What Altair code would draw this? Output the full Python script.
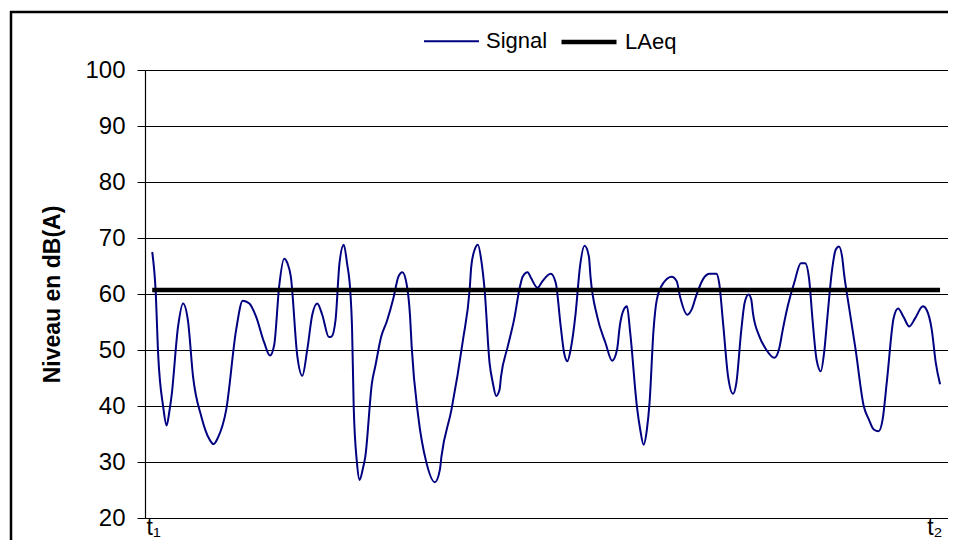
import altair as alt
import pandas as pd

# ---- data ----
times = [0.90, 1.32, 1.65, 2.26, 2.69, 3.01, 3.30, 4.12, 4.74, 5.36, 5.98, 7.02, 8.04, 8.54, 9.07,
         10.11, 11.35, 12.17, 13.00, 13.82, 14.85, 15.56, 16.09, 16.71, 17.33, 17.74, 18.16, 18.97,
         19.59, 20.21, 20.83, 21.45, 22.07, 22.90, 23.23, 23.73, 24.22, 24.75, 25.16, 25.58, 25.78,
         25.99, 26.40, 26.73, 27.10, 27.44, 28.26, 28.68, 29.42, 30.11, 30.94, 31.56, 32.05, 32.59,
         33.01, 33.21, 34.03, 35.06, 36.10, 36.72, 36.92, 38.16, 39.60, 40.43, 40.63, 41.05, 41.46,
         41.87, 42.29, 42.91, 43.32, 43.73, 44.15, 44.34, 45.17, 46.00, 46.62, 47.03, 47.65, 48.06,
         48.89, 49.50, 50.53, 51.15, 51.77, 52.19, 52.60, 53.01, 53.63, 54.17, 54.74, 55.28, 55.48,
         56.31, 57.34, 58.17, 58.79, 59.12, 59.62, 60.02, 60.43, 61.26, 61.67, 62.09, 62.50, 62.83,
         63.33, 63.74, 64.57, 65.59, 66.21, 66.62, 67.54, 68.07, 68.69, 69.52, 70.33, 71.16, 71.50,
         71.99, 72.61, 73.23, 73.64, 74.26, 74.67, 75.16, 75.50, 75.71, 76.52, 77.35, 78.38, 79.00,
         79.42, 80.04, 80.85, 81.68, 82.21, 82.71, 83.13, 83.63, 84.16, 84.57, 84.99, 85.52, 86.01,
         86.42, 86.84, 87.04, 87.66, 88.49, 89.52, 90.14, 90.76, 91.37, 91.86, 92.41, 93.23, 93.78,
         94.47, 95.17, 95.92, 96.87, 97.36, 97.98, 98.48, 99.01]
levels = [67.5, 60.7, 48.9, 39.9, 36.5, 38.8, 41.7, 54.2, 58.3, 55.1, 45.3, 38.1, 34.0, 33.2, 34.3,
          39.3, 53.6, 58.8, 58.3, 56.0, 51.3, 49.0, 50.9, 61.4, 66.3, 65.5, 63.1, 48.9,
          45.4, 50.1, 56.3, 58.3, 56.3, 52.3, 52.4, 55.4, 65.5, 68.8, 65.5, 60.2, 54.2,
          39.9, 29.8, 26.8, 28.6, 31.0, 44.1, 47.1, 52.4, 55.1, 59.3, 63.1, 63.9, 61.7,
          56.0, 50.6, 38.1, 29.8, 26.4, 28.6, 31.0, 39.3, 51.8, 60.8, 64.9, 67.9, 68.8,
          66.1, 60.8, 47.7, 44.1, 41.8, 42.9, 45.3, 50.6, 55.7, 60.8, 63.1, 63.9, 62.9,
          61.1, 62.3, 63.6, 62.0, 54.2, 49.5, 48.0, 50.1, 56.6, 64.9, 68.6, 66.7, 63.1,
          56.0, 51.3, 48.1, 50.1, 54.2, 57.2, 57.8, 53.0, 39.9, 35.8, 33.1, 35.8, 40.5,
          53.6, 59.0, 62.0, 63.1, 62.3, 59.6, 56.3, 57.2, 59.9, 62.7, 63.6, 63.6, 62.0,
          54.8, 45.3, 42.2, 44.1, 53.6, 58.4, 59.9, 59.0, 56.6, 52.4, 50.1, 48.6, 50.4,
          53.6, 57.8, 62.0, 65.5, 65.5, 62.6, 55.4, 48.3, 46.2, 49.5, 56.0, 63.8, 67.9,
          68.5, 66.4, 63.8, 57.8, 50.1, 39.9, 37.6, 35.8, 35.5, 37.6, 44.7, 55.7, 57.4,
          55.9, 54.2, 55.7, 57.8, 57.1, 53.6, 47.7, 43.9]
laeq_level = 60.7
series_names = ["Signal", "LAeq"]
series_colors = ["#000080", "#000000"]
series_widths = [2, 4.5]
y_ticks = [20, 30, 40, 50, 60, 70, 80, 90, 100]
x_tick_values = [0, 100]
x_tick_labels = ["t\u2081", "t\u2082"]
y_title = "Niveau en dB(A)"

FONT = "Liberation Sans, Arial, sans-serif"

sig = pd.DataFrame({"t": times, "level": levels, "series": series_names[0]})
leq = pd.DataFrame({"t": [times[0], times[-1]], "level": [laeq_level, laeq_level],
                    "series": series_names[1]})
df = pd.concat([sig, leq], ignore_index=True)

leg = alt.Legend(title=None, orient="none", direction="horizontal",
                 legendX=278, legendY=-58, symbolType="stroke", symbolSize=3025,
                 labelFont=FONT, labelFontSize=22, labelColor="black",
                 columnPadding=4, labelOffset=6)

label_expr = (f"datum.value == {x_tick_values[0]} ? '{x_tick_labels[0]}' : "
              f"'{x_tick_labels[1]}'")

lines = alt.Chart(df).mark_line(interpolate="monotone").encode(
    x=alt.X("t:Q", scale=alt.Scale(domain=[0, 100], nice=False, zero=False),
            axis=alt.Axis(title=None, values=x_tick_values, labelExpr=label_expr,
                          ticks=False, grid=False, labelFont=FONT, labelFontSize=23,
                          labelColor="black", labelPadding=-2,
                          labelAlign={"expr": "datum.value == 0 ? 'left' : 'right'"},
                          labelOffset={"expr": "datum.value == 0 ? 1 : -6"},
                          domainColor="black", domainWidth=1.2)),
    y=alt.Y("level:Q", scale=alt.Scale(domain=[20, 100], nice=False, zero=False),
            axis=alt.Axis(title=y_title, values=y_ticks, grid=True, gridColor="black",
                          gridWidth=1, tickSize=8, tickColor="black", labelFont=FONT,
                          labelFontSize=24, labelColor="black", labelPadding=12,
                          domainColor="black", domainWidth=1.2,
                          titleFont=FONT, titleFontSize=23, titleFontWeight="bold",
                          titleColor="black", titleAngle=270, titleX=-86, titleY=224,
                          titleAlign="center", titleBaseline="alphabetic")),
    color=alt.Color("series:N", scale=alt.Scale(domain=series_names, range=series_colors),
                    legend=leg),
    strokeWidth=alt.StrokeWidth("series:N",
                                scale=alt.Scale(domain=series_names, range=series_widths),
                                legend=leg),
    detail="series:N",
)

one = pd.DataFrame({"k": [0]})
frame_left = alt.Chart(one).mark_rule(color="black", strokeWidth=2.5).encode(
    x=alt.value(-134), y=alt.value(-59), y2=alt.value(900))
frame_top = alt.Chart(one).mark_rule(color="black", strokeWidth=2.5).encode(
    x=alt.value(-135), x2=alt.value(1200), y=alt.value(-58))

chart = alt.layer(frame_left, frame_top, lines).properties(
    width=803, height=448,
    padding={"left": 137, "top": 62, "right": 0, "bottom": 22},
    autosize=alt.AutoSizeParams(type="none"),
    background="white",
).configure_view(strokeWidth=0)

chart.save("out.html", embed_options={"renderer": "svg", "actions": False})
